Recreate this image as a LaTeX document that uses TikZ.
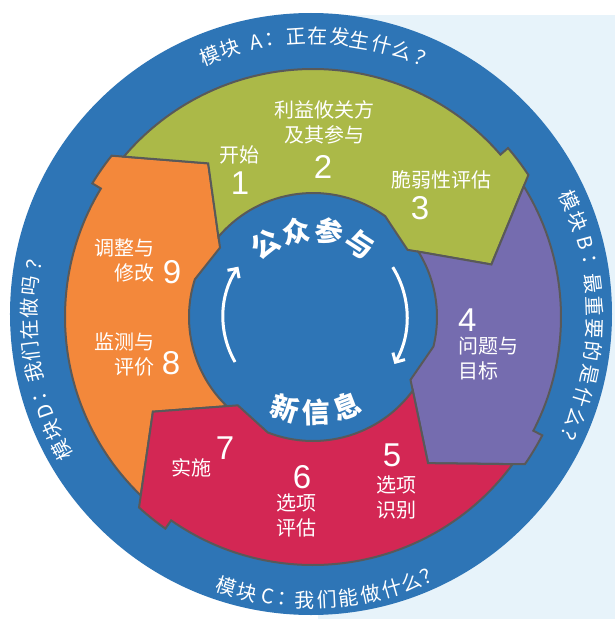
\documentclass[tikz,border=0pt]{standalone}
\usepackage{fontspec}
\setmainfont{Liberation Sans}
\newfontfamily\cjk{Noto Sans CJK SC}
\usetikzlibrary{arrows.meta}
\definecolor{ringblue}{RGB}{46,117,182}
\definecolor{paleblue}{RGB}{231,243,250}
\definecolor{olive}{RGB}{171,185,72}
\definecolor{lilac}{RGB}{117,108,175}
\definecolor{crimson}{RGB}{211,39,84}
\definecolor{tangerine}{RGB}{243,136,59}
\definecolor{rim}{RGB}{89,89,89}

\begin{document}
\begin{tikzpicture}[x=1pt,y=1pt,
  seg/.style={draw=rim,line width=2pt},
  lbl/.style={text=white,font=\cjk\fontsize{20}{25}\selectfont,align=center,inner sep=0pt},
  num/.style={text=white,font=\fontsize{33}{36}\selectfont,inner sep=0pt},
  hub/.style={text=white,font=\cjk\bfseries\fontsize{28}{30}\selectfont,inner sep=0pt},
  ringlbl/.style={text=white,font=\cjk\fontsize{20}{22}\selectfont,inner sep=0pt}]
  \useasboundingbox (-313,-302) rectangle (302,317);
  \fill[white] (-313,-302) rectangle (302,317);
  \fill[paleblue] (5,-302) rectangle (302,302);
  \fill[ringblue] (-2,3) circle[radius=301pt];
  \foreach \c/\p/\t in {tangerine/210.6/124.3, olive/124.3/16.4, lilac/16.4/-51.8, crimson/-51.8/-149.4}{
    \draw[seg,fill=\c] (\p+15.4:248pt) arc[start angle=\p+15.4,end angle=\t+24.5,radius=248pt]
      -- (\t+24.5:258pt) arc[start angle=\t+24.5,end angle=\t+17,radius=258pt]
      -- (\t:186pt) -- (\t+19:116pt) -- (\t+38:124pt)
      arc[start angle=\t+38,end angle=\p+15.4,radius=124pt] -- (\p:186pt) -- cycle;
  }
  \draw[white,line width=3pt,-{Straight Barb[length=7pt,width=14pt]}] (210:90pt) arc[start angle=210,end angle=146,radius=90pt];
  \draw[white,line width=3pt,-{Straight Barb[length=7pt,width=14pt]}] (32:94pt) arc[start angle=32,end angle=-30,radius=94pt];
  \foreach \ch/\a [count=\i] in {公/123,众/101,参/79,与/57}
    \node[hub,rotate=\a-90] (pub\i) at (\a:87pt) {\ch};
  \foreach \ch/\a [count=\i] in {新/253,信/272,息/291}
    \node[hub,rotate=\a+90] (new\i) at (\a:95pt) {\ch};
  \foreach \ch/\a [count=\i] in {模/111.5,块/107.2,A/101.7,：/97.8,正/93.5,在/89,发/84.5,生/80.4,什/75.8,么/71.5,？/66.5}
    \node[ringlbl,rotate=\a-90] (modA\i) at (\a:281pt) {\ch};
  \foreach \ch/\a [count=\i] in {模/24.5,块/19.9,B/15.3,：/10.7,最/6.9,重/2.2,要/-2.3,的/-6.9,是/-11.8,什/-16.6,么/-21.2,？/-25.6}
    \node[ringlbl,rotate=\a-90] (modB\i) at (\a:282pt) {\ch};
  \foreach \ch/\a [count=\i] in {模/252.2,块/256.6,C/260.9,：/264.7,我/268.4,们/272.8,能/277.2,做/281.8,什/286.2,么/290.4,？/294.6}
    \node[ringlbl,rotate=\a+90] (modC\i) at (\a:283pt) {\ch};
  \foreach \ch/\a [count=\i] in {模/208,块/203.6,D/199.4,：/195.4,我/191.3,们/187,在/182.6,做/178.2,吗/173.6,？/168.4}
    \node[ringlbl,rotate=\a-90] (modD\i) at (\a:284pt) {\ch};
  \node[lbl] (start) at (-73,162) {开始};
  \node[num] (s1) at (-73,134) {1};
  \node[lbl] (stake) at (12,195) {利益攸关方\\及其参与};
  \node[num] (s2) at (10,150) {2};
  \node[lbl] (vuln) at (129,137) {脆弱性评估};
  \node[num] (s3) at (107,109) {3};
  \node[num,anchor=west] (s4) at (145,-3) {4};
  \node[lbl,align=left,anchor=west] (goal) at (145,-42) {问题与\\目标};
  \node[num] (s5) at (79,-138) {5};
  \node[lbl] (ident) at (84,-180) {选项\\识别};
  \node[num] (s6) at (-11,-160) {6};
  \node[lbl] (evalopt) at (-16,-198) {选项\\评估};
  \node[num] (s7) at (-88,-131) {7};
  \node[lbl] (impl) at (-121,-151) {实施};
  \node[lbl,align=right,anchor=east] (adapt) at (-158,57) {调整与\\修改};
  \node[num] (s9) at (-141,45) {9};
  \node[lbl,align=right,anchor=east] (monitor) at (-158,-37) {监测与\\评价};
  \node[num] (s8) at (-142,-46) {8};
\end{tikzpicture}
\end{document}
